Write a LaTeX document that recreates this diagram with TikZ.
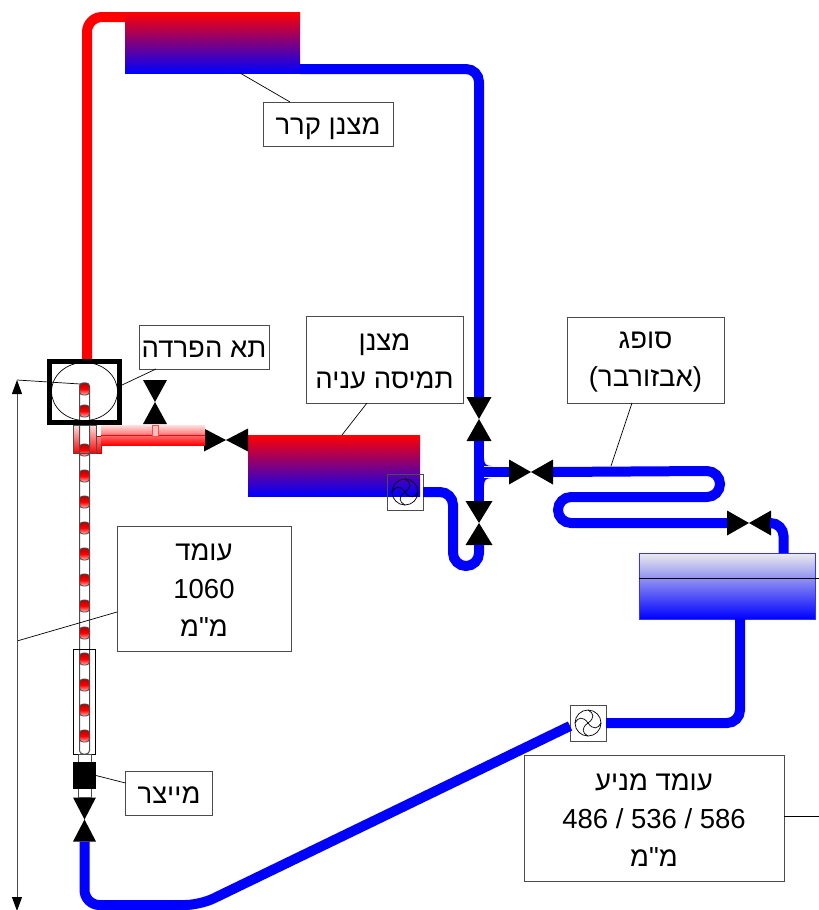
\documentclass[tikz,border=0pt]{standalone}
\usepackage{fontspec}
\usetikzlibrary{positioning, shapes.geometric, arrows.meta}
\newfontfamily\hebfont[Script=Hebrew]{Liberation Sans}
\TeXXeTstate=1
\newcommand{\heb}[1]{\beginR #1\endR}
\newcommand{\lift}{\rule{0pt}{20pt}}

\begin{document}
\begin{tikzpicture}[
  x=1pt, y=-1pt,
  tag/.style={draw=gray!60!black, line width=0.9pt, fill=white, rectangle, inner sep=0pt, outer sep=0pt, align=center, font=\hebfont\fontsize{27.5}{38}\selectfont},
  oneline/.style={text height=20pt, text depth=0pt},
  leader/.style={black, line width=0.7pt},
  coldpipe/.style={draw=blue, line width=10pt, rounded corners=13pt},
  hotpipe/.style={draw=red, line width=10pt, rounded corners=15pt},
  cond/.style={rectangle, inner sep=0pt, outer sep=0pt, top color=red, bottom color=blue},
  vvalve/.style={rectangle, inner sep=0pt, outer sep=0pt, minimum width=25pt, minimum height=44pt, path picture={\fill[black] (path picture bounding box.north west) -- (path picture bounding box.south east) -- (path picture bounding box.south west) -- (path picture bounding box.north east) -- cycle;}},
  hvalve/.style={rectangle, inner sep=0pt, outer sep=0pt, minimum width=44pt, minimum height=25pt, path picture={\fill[black] (path picture bounding box.north west) -- (path picture bounding box.south east) -- (path picture bounding box.north east) -- (path picture bounding box.south west) -- cycle;}},
  fanbox/.style={draw=gray!60!black, line width=1pt, rectangle, inner sep=0pt, outer sep=0pt, minimum size=36pt, path picture={
    \draw[black, line width=0.7pt] (path picture bounding box.center) circle[radius=13pt];
    \draw[black, line width=0.7pt] (path picture bounding box.center) .. controls +(5pt,-7pt) and +(-3pt,-6pt) .. +(13pt,0pt);
    \draw[black, line width=0.7pt] (path picture bounding box.center) .. controls +(7pt,5pt) and +(6pt,-3pt) .. +(0pt,13pt);
    \draw[black, line width=0.7pt] (path picture bounding box.center) .. controls +(-5pt,7pt) and +(3pt,6pt) .. +(-13pt,0pt);
    \draw[black, line width=0.7pt] (path picture bounding box.center) .. controls +(-7pt,-5pt) and +(-6pt,3pt) .. +(0pt,-13pt);
  }},
  bead/.style={rectangle, rounded corners=3.5pt, draw=gray!60!black, line width=0.8pt, inner sep=0pt, outer sep=0pt, minimum width=10pt, minimum height=12pt, top color=red!70!black, bottom color=red!30, middle color=red}
]
\useasboundingbox (0,0) rectangle (819,910);
\clip (0,0) rectangle (819,910);

\node[cond, minimum width=175pt, minimum height=61pt] (coolcond) at (212.5,42.5) {};
\node[cond, minimum width=172pt, minimum height=61pt] (richcond) at (334,465.5) {};
\node[rectangle, draw=blue!80, line width=0.7pt, inner sep=0pt, outer sep=0pt, minimum width=176pt, minimum height=66pt, top color=gray!15, bottom color=blue] (tank) at (727,586) {};

\node[vvalve] (vtop) at (479,419) {};
\node[vvalve, minimum width=27pt] (vmid) at (479,523) {};
\node[hvalve] (vabs) at (531,472) {};
\node[hvalve] (vtank) at (749,523) {};
\node[hvalve, minimum height=23pt] (vrich) at (226,440) {};
\node[vvalve, minimum width=24pt] (vgen) at (155,402) {};
\node[vvalve, minimum width=23pt] (vbot) at (84.5,819.5) {};
\node[fanbox] (fanrich) at (405,492) {};
\node[fanbox] (fantank) at (588,723) {};

\node[ellipse, draw=black, line width=0.7pt, fill=white, inner sep=0pt, outer sep=0pt, minimum width=66pt, minimum height=58pt] (drum) at (84.5,391.5) {};
\node[rectangle, draw=black, line width=5pt, inner sep=0pt, outer sep=0pt, minimum width=70pt, minimum height=61pt] (sep) at (84.5,391.5) {};

\coordinate (tee) at (479,472);
\coordinate (dimtop) at (17,380);
\coordinate (dimbot) at (17,911);
\coordinate (dimtap) at (17,641);
\coordinate (tankend) at (819,578);
\coordinate (pumpend) at (819,816);

\draw[hotpipe] ([xshift=2.5pt]sep.north) |- ([yshift=25.5pt]coolcond.west);
\draw[coldpipe] ([yshift=-26.5pt]coolcond.east) -| (vtop.north);
\draw[coldpipe] (vtop.south) -- (vmid.north);
\draw[coldpipe] (tee) -- (vabs.west);
\fill[blue] (484,458) .. controls (484,464) and (486,466) .. (492,466) -- (484,466) -- cycle;
\fill[blue] (484,486) .. controls (484,480) and (486,478) .. (492,478) -- (484,478) -- cycle;
\draw[coldpipe, sharp corners] (vabs.east) -- (707,471) arc[start angle=90, end angle=-90, radius=13pt] -- (571,497) arc[start angle=90, end angle=270, radius=13pt] -- (vtank.west);
\draw[coldpipe] (vtank.east) -| ([xshift=56.5pt]tank.north);
\draw[coldpipe] (fanrich.east) -- (453,492) -- (453,566) -- (479,566) -- (vmid.south);
\draw[coldpipe] ([xshift=13pt]tank.south) |- (fantank.east);
\draw[coldpipe, rounded corners=15pt] ([yshift=-3pt]fantank.west) -- (200,905) -- (84.5,905) -- (vbot.south);

\shade[top color=red!12, bottom color=red, draw=red!80!black, line width=0.5pt] (73.5,425) -- (96,425) -- (96,436) -- (101,436) -- (101,453) -- (73.5,453) -- cycle;
\node[rectangle, inner sep=0pt, outer sep=0pt, minimum width=104pt, minimum height=20pt, top color=red!12, bottom color=red] (heater) at (153,435) {};
\draw[red, line width=0.7pt] (heater.west) -- (heater.east);
\node[rectangle, draw=red!70, line width=0.6pt, fill=red!25, inner sep=0pt, outer sep=0pt, minimum width=6pt, minimum height=11pt] (stub) at (155,430.5) {};

\node[rectangle, rounded corners=3.5pt, draw=gray!60!black, line width=1pt, fill=white, inner sep=0pt, outer sep=0pt, minimum width=10pt, minimum height=371pt] (column) at (84.5,568.5) {};
\foreach \y in {389,411,450,476,502,528,554,580,606,633,659,685,710,736} {
  \node[bead] (bead\y) at (84.5,\y) {};
}
\draw[gray!60!black, line width=0.7pt] (73.5,425) rectangle (96,453);
\node[rectangle, draw=black, line width=0.7pt, inner sep=0pt, outer sep=0pt, minimum width=22pt, minimum height=105pt] (mixbox) at (84.5,701.5) {};
\node[rectangle, draw=gray!60!black, line width=0.7pt, inner sep=0pt, outer sep=0pt, fill=white, minimum width=13pt, minimum height=43pt] (mixneck) at (84.5,775.5) {};
\node[rectangle, fill=black, inner sep=0pt, outer sep=0pt, minimum width=23pt, minimum height=27pt] (mixer) at (84.5,775.5) {};
\node[rectangle, draw=black, line width=5pt, inner sep=0pt, outer sep=0pt, minimum width=70pt, minimum height=61pt] (sepframe) at (84.5,391.5) {};

\node[tag, oneline, minimum width=130pt, minimum height=44pt] (tagcool) at (328,124) {\heb{מצנן קרר}};
\node[tag, oneline, minimum width=130pt, minimum height=44pt] (tagsep) at (204,347) {\heb{תא הפרדה}};
\node[tag, minimum width=157pt, minimum height=87pt] (tagrich) at (384.5,359.5) {\lift\heb{מצנן}\\\heb{תמיסה עניה}};
\node[tag, minimum width=157pt, minimum height=86pt] (tagabs) at (645.5,360) {\lift\heb{סופג}\\\heb{(אבזורבר)}};
\node[tag, minimum width=174pt, minimum height=125pt] (tagcol) at (204,588.5) {\lift\heb{עומד}\\1060\\\heb{מ"מ}};
\node[tag, oneline, minimum width=87pt, minimum height=44pt] (tagmix) at (169,793) {\heb{מייצר}};
\node[tag, minimum width=260pt, minimum height=126pt] (tagpump) at (654,818) {\lift\heb{עומד מניע}\\486 / 536 / 586\\\heb{מ"מ}};

\draw[leader] ([xshift=-38pt]tagcool.north) -- ([xshift=27.5pt]coolcond.south);
\draw[leader] ([xshift=-48pt]tagsep.south) -- ([xshift=2.5pt,yshift=6.5pt]sep.east);
\draw[leader] ([xshift=-17.5pt]tagrich.south) -- ([xshift=8pt]richcond.north);
\draw[leader] ([xshift=-13.5pt]tagabs.south) -- (611,466);
\draw[leader] ([yshift=-23.5pt]tagcol.west) -- (dimtap);
\draw[leader] (mixer.east) -- ([yshift=10pt]tagmix.west);
\draw[leader] ([yshift=2pt]tagpump.east) -- (pumpend);
\draw[leader] ([yshift=8pt]tank.west) -- (tankend);
\draw[leader] (dimtop) -- ([xshift=-4.5pt,yshift=-1pt]bead389.north);
\draw[gray!60!black, line width=1pt, {Triangle[length=14pt, width=10pt, color=black]}-{Triangle[length=14pt, width=10pt, color=black]}] (dimtop) -- (dimbot);
\end{tikzpicture}
\end{document}
